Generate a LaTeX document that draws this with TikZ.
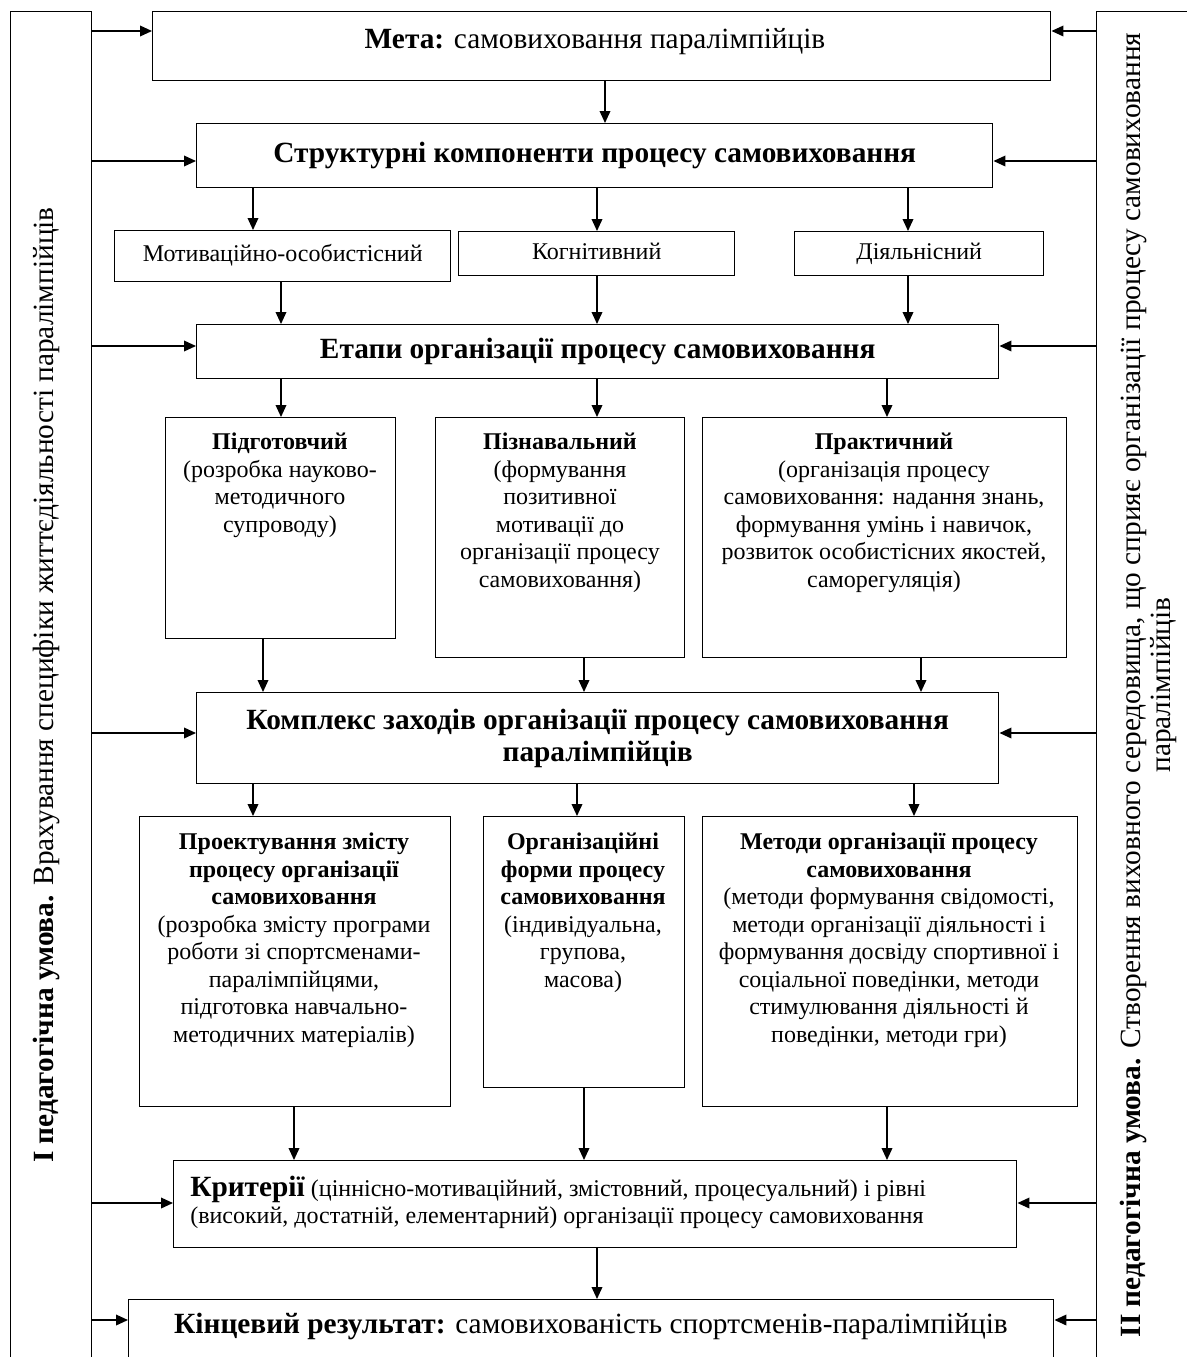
\documentclass[tikz,border=0pt]{standalone}
\usepackage{fontspec}
\setmainfont{Liberation Serif}
\usetikzlibrary{arrows.meta}

\tikzset{
	blk/.style={draw, line width=1.1pt, anchor=north west, inner sep=0pt},
	sz/.style 2 args={minimum width=#1*0.75pt, minimum height=#2*0.75pt},
	arr/.style={line width=1.1pt, -{Triangle[length=9pt, width=8pt]}},
	txt/.style={font=\fontsize{18}{20.6}\selectfont, align=center, inner sep=0pt},
	cmp/.style={txt, text height=12pt, text depth=4pt},
	big/.style={font=\fontsize{22}{24}\selectfont, align=center, inner sep=0pt},
	ttl/.style={big, font=\fontsize{22}{24}\selectfont\bfseries},
}

\begin{document}
\begin{tikzpicture}[x=0.75pt,y=0.75pt,yscale=-1,xscale=1]
	\useasboundingbox (0,0) rectangle (1187,1357);
	\clip (0,0) rectangle (1187,1357);
	%Shape: Rectangle [id:conditions]
	\node[blk, sz={81}{1400}] (cond1) at (10,11) {};
	\node[blk, sz={150}{1400}] (cond2) at (1096,11) {};
	\node[big, rotate=90] (cond1T) at (46,685) {\textbf{I педагогічна умова.} Врахування специфіки життєдіяльності паралімпійців};
	\node[big, rotate=90, font=\fontsize{22}{22.5}\selectfont] (cond2T) at (1148,685) {\textbf{II педагогічна умова.} Створення виховного середовища, що сприяє організації процесу самовиховання\\паралімпійців};
	%Shape: Rectangle [id:meta]
	\node[blk, sz={898}{69}] (meta) at (152,11) {};
	\node[big, anchor=base] (metaT) at (595,48) {\textbf{Мета:} самовиховання паралімпійців};
	%Shape: Rectangle [id:components]
	\node[blk, sz={796}{64}, ttl] (struct) at (196,123) {Структурні компоненти процесу самовиховання};
	\node[blk, sz={336}{51}, cmp] (motiv) at (114,230) {Мотиваційно-особистісний};
	\node[blk, sz={276}{44}, cmp] (kogn) at (458,231) {Когнітивний};
	\node[blk, sz={249}{44}, cmp] (diyal) at (794,231) {Діяльнісний};
	%Shape: Rectangle [id:stages]
	\node[blk, sz={802}{54}, ttl] (etapy) at (196,324) {Етапи організації процесу самовиховання};
	\node[blk, sz={230}{221}] (pidg) at (165,417) {};
	\node[blk, sz={249}{240}] (pizn) at (435,417) {};
	\node[blk, sz={364}{240}] (prakt) at (702,417) {};
	\node[txt, anchor=north] (pidgT) at (280,433) {\textbf{Підготовчий}\\(розробка науково-\\методичного\\супроводу)};
	\node[txt, anchor=north] (piznT) at (560,433) {\textbf{Пізнавальний}\\(формування\\позитивної\\мотивації до\\організації процесу\\самовиховання)};
	\node[txt, anchor=north] (praktT) at (884,433) {\textbf{Практичний}\\(організація процесу\\самовиховання: надання знань,\\формування умінь і навичок,\\розвиток особистісних якостей,\\саморегуляція)};
	%Shape: Rectangle [id:measures]
	\node[blk, sz={802}{91}, ttl] (kompl) at (196,692) {Комплекс заходів організації процесу самовиховання\\паралімпійців};
	\node[blk, sz={311}{290}] (proekt) at (139,816) {};
	\node[blk, sz={201}{271}] (organ) at (483,816) {};
	\node[blk, sz={375}{290}] (metody) at (702,816) {};
	\node[txt, anchor=north] (proektT) at (294,833) {\textbf{Проектування змісту}\\\textbf{процесу організації}\\\textbf{самовиховання}\\(розробка змісту програми\\роботи зі спортсменами-\\паралімпійцями,\\підготовка навчально-\\методичних матеріалів)};
	\node[txt, anchor=north] (organT) at (583,833) {\textbf{Організаційні}\\\textbf{форми процесу}\\\textbf{самовиховання}\\(індивідуальна,\\групова,\\масова)};
	\node[txt, anchor=north] (metodyT) at (889,833) {\textbf{Методи організації процесу}\\\textbf{самовиховання}\\(методи формування свідомості,\\методи організації діяльності і\\формування досвіду спортивної і\\соціальної поведінки, методи\\стимулювання діяльності й\\поведінки, методи гри)};
	%Shape: Rectangle [id:criteria]
	\node[blk, sz={843}{87}] (kryt) at (173,1160) {};
	\node[txt, anchor=north west, align=left, font=\fontsize{18}{20}\selectfont] (krytT) at (190,1176) {{\fontsize{22}{24}\selectfont\textbf{Критерії}} (ціннісно-мотиваційний, змістовний, процесуальний) і рівні\\(високий, достатній, елементарний) організації процесу самовиховання};
	\node[blk, sz={925}{75}] (kinc) at (128,1299) {};
	\node[big, anchor=base] (kincT) at (591,1333) {\textbf{Кінцевий результат:} самовихованість спортсменів-паралімпійців};
	% arrows from the conditions
	\draw[arr] (cond1.east |- 0,31) -- (meta.west |- 0,31);
	\draw[arr] (cond1.east |- 0,161) -- (struct.west |- 0,161);
	\draw[arr] (cond1.east |- 0,346) -- (etapy.west |- 0,346);
	\draw[arr] (cond1.east |- 0,733) -- (kompl.west |- 0,733);
	\draw[arr] (cond1.east |- 0,1203) -- (kryt.west |- 0,1203);
	\draw[arr] (cond1.east |- 0,1320) -- (kinc.west |- 0,1320);
	\draw[arr] (cond2.west |- 0,31) -- (meta.east |- 0,31);
	\draw[arr] (cond2.west |- 0,161) -- (struct.east |- 0,161);
	\draw[arr] (cond2.west |- 0,346) -- (etapy.east |- 0,346);
	\draw[arr] (cond2.west |- 0,733) -- (kompl.east |- 0,733);
	\draw[arr] (cond2.west |- 0,1203) -- (kryt.east |- 0,1203);
	\draw[arr] (cond2.west |- 0,1320) -- (kinc.east |- 0,1320);
	% arrows down the scheme
	\draw[arr] (605,0 |- meta.south) -- (605,0 |- struct.north);
	\draw[arr] (253,0 |- struct.south) -- (253,0 |- motiv.north);
	\draw[arr] (597,0 |- struct.south) -- (597,0 |- kogn.north);
	\draw[arr] (908,0 |- struct.south) -- (908,0 |- diyal.north);
	\draw[arr] (281,0 |- motiv.south) -- (281,0 |- etapy.north);
	\draw[arr] (597,0 |- kogn.south) -- (597,0 |- etapy.north);
	\draw[arr] (908,0 |- diyal.south) -- (908,0 |- etapy.north);
	\draw[arr] (281,0 |- etapy.south) -- (281,0 |- pidg.north);
	\draw[arr] (597,0 |- etapy.south) -- (597,0 |- pizn.north);
	\draw[arr] (887,0 |- etapy.south) -- (887,0 |- prakt.north);
	\draw[arr] (263,0 |- pidg.south) -- (263,0 |- kompl.north);
	\draw[arr] (584,0 |- pizn.south) -- (584,0 |- kompl.north);
	\draw[arr] (921,0 |- prakt.south) -- (921,0 |- kompl.north);
	\draw[arr] (253,0 |- kompl.south) -- (253,0 |- proekt.north);
	\draw[arr] (577,0 |- kompl.south) -- (577,0 |- organ.north);
	\draw[arr] (914,0 |- kompl.south) -- (914,0 |- metody.north);
	\draw[arr] (294,0 |- proekt.south) -- (294,0 |- kryt.north);
	\draw[arr] (584,0 |- organ.south) -- (584,0 |- kryt.north);
	\draw[arr] (887,0 |- metody.south) -- (887,0 |- kryt.north);
	\draw[arr] (597,0 |- kryt.south) -- (597,0 |- kinc.north);
\end{tikzpicture}
\end{document}
